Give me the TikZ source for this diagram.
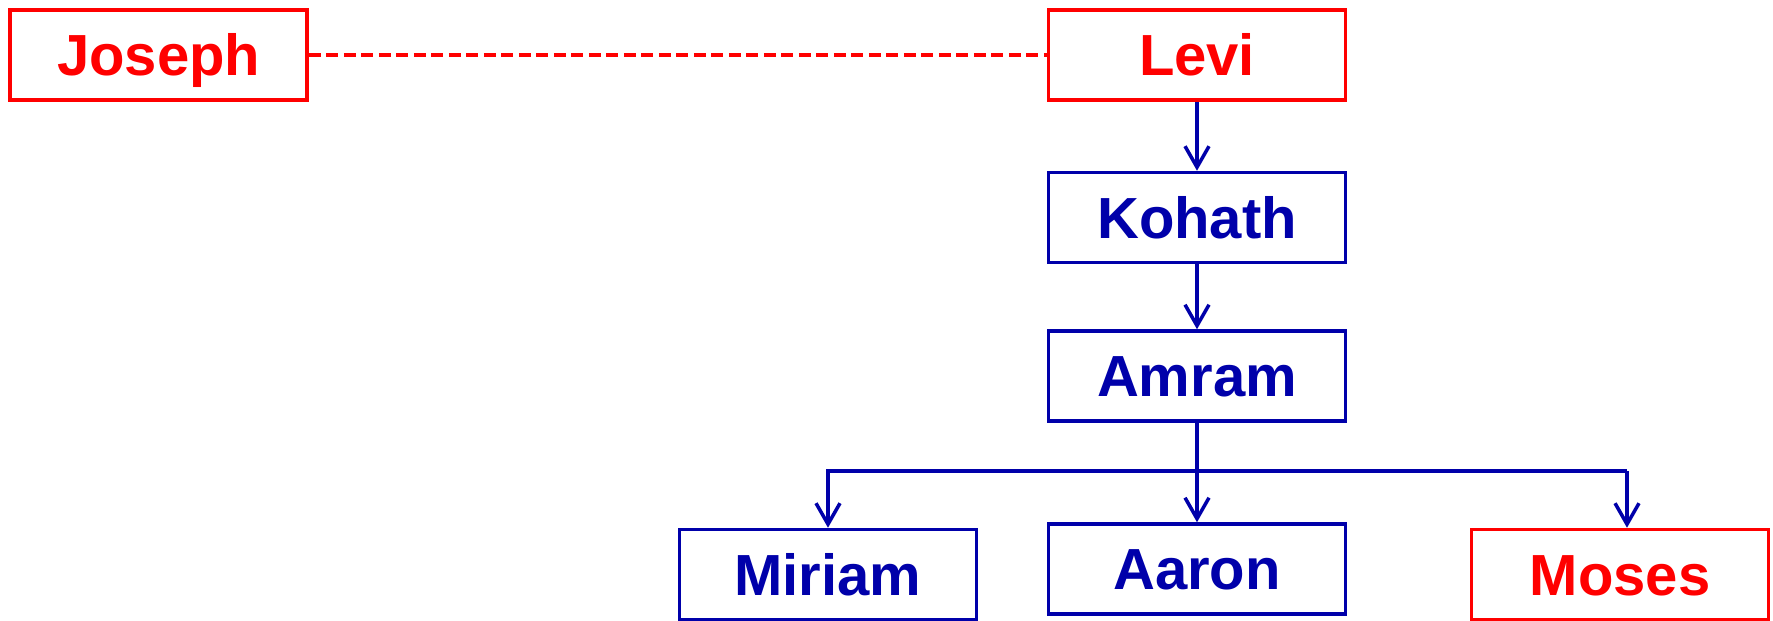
\documentclass[tikz,border=0pt]{standalone}
\usepackage{fontspec}
\setmainfont{Liberation Sans}
\usetikzlibrary{arrows.meta}
\definecolor{darkblue}{RGB}{0,0,170}

\begin{document}
\begin{tikzpicture}[line width=1pt]
 \useasboundingbox (0,0) rectangle (17.73,-6.21);
 \begin{scope}[every node/.style={draw=darkblue, text=darkblue, minimum width=2.97cm, minimum height=0.9cm, inner sep=0pt, text height=0.415cm, text depth=0pt, font=\fontsize{16.5}{18}\selectfont\bfseries}]
   \node (joseph) [draw=red, text=red] at (1.587,-0.55) {Joseph};
   \node (levi)   [draw=red, text=red] at (11.97,-0.55) {Levi};
   \node (kohath) at (11.97,-2.175) {Kohath};
   \node (amram)  at (11.97,-3.76) {Amram};
   \node (miriam) at (8.28,-5.745) {Miriam};
   \node (aaron)  at (11.97,-5.69) {Aaron};
   \node (moses)  [draw=red, text=red] at (16.20,-5.745) {Moses};
 \end{scope}
 \draw [red, line width=1.1pt, dash pattern=on 0.12cm off 0.055cm] (joseph.east) -- (levi.west);
 \begin{scope}[darkblue, -{Straight Barb[length=2.1mm, width=2.4mm]}]
   \draw (levi) -- (kohath);
   \draw (kohath) -- (amram);
   \draw (amram) -- (aaron);
   \coordinate (busL) at (8.28,-4.71);
   \coordinate (busR) at (16.27,-4.71);
   \draw (busR) -- (busL) -- (miriam.north);
   \draw (busR) -- (busR |- moses.north);
 \end{scope}
\end{tikzpicture}
\end{document}
